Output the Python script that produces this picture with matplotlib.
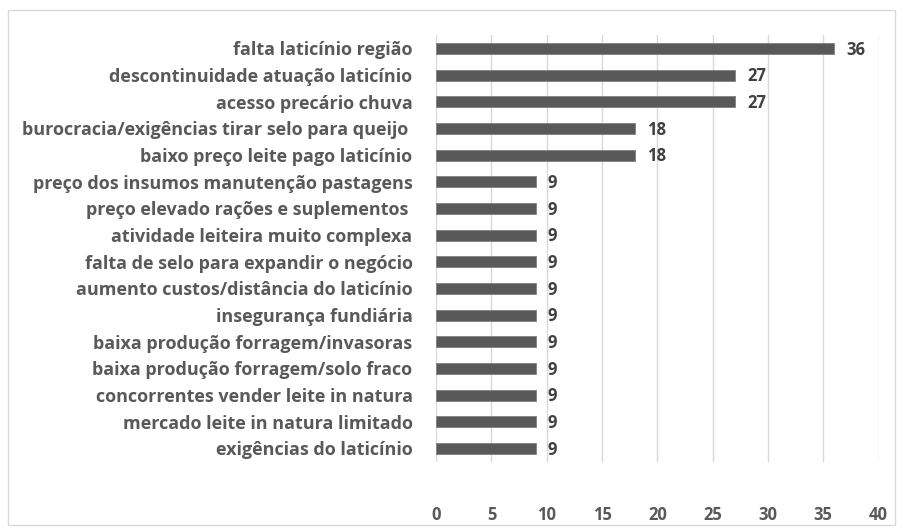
import matplotlib
matplotlib.use('Agg')
import matplotlib.pyplot as plt
from matplotlib.patches import Rectangle

categories = [
    'falta laticínio região',
    'descontinuidade atuação laticínio',
    'acesso precário chuva',
    'burocracia/exigências tirar selo para queijo ',
    'baixo preço leite pago laticínio',
    'preço dos insumos manutenção pastagens',
    'preço elevado rações e suplementos ',
    'atividade leiteira muito complexa',
    'falta de selo para expandir o negócio',
    'aumento custos/distância do laticínio',
    'insegurança fundiária',
    'baixa produção forragem/invasoras',
    'baixa produção forragem/solo fraco',
    'concorrentes vender leite in natura',
    'mercado leite in natura limitado',
    'exigências do laticínio',
]
values = [36, 27, 27, 18, 18, 9, 9, 9, 9, 9, 9, 9, 9, 9, 9, 9]
xticks = [0, 5, 10, 15, 20, 25, 30, 35, 40]

plt.rcParams['font.family'] = ['Open Sans', 'DejaVu Sans']
plt.rcParams['font.weight'] = 'bold'

fig = plt.figure(figsize=(9.03, 5.32), dpi=100)
ax = fig.add_axes([0.483, 0.132, 0.490, 0.802])

# border around the whole chart
fig.patches.append(Rectangle((8 / 903, 7 / 532), 887 / 903, 515 / 532,
                             transform=fig.transFigure, fill=False,
                             edgecolor='#d9d9d9', linewidth=1))

pos = list(range(len(categories)))
ax.barh(pos, values, height=0.42, color='#595959', edgecolor='#7f7f7f',
        linewidth=0.6, zorder=3)
for p, v in zip(pos, values):
    ax.text(v + 1.1, p + 0.05, str(v), va='center', ha='left', fontsize=12,
            fontweight='bold', color='#404040')

ax.set_yticks(pos)
ax.set_yticklabels(categories, fontsize=12.95, fontweight='bold', color='#595959')
ax.set_ylim(len(categories) - 0.5, -0.5)
ax.set_xlim(0, 40)
ax.set_xticks(xticks)
ax.set_xticklabels([str(t) for t in xticks], fontsize=12, fontweight='bold',
                   color='#595959')
ax.tick_params(axis='both', length=0)
ax.tick_params(axis='x', pad=32)
ax.tick_params(axis='y', pad=17)
ax.grid(axis='x', color='#d9d9d9', linewidth=1, zorder=0)
for s in ax.spines.values():
    s.set_visible(False)

plt.savefig('out.png', dpi=100)
